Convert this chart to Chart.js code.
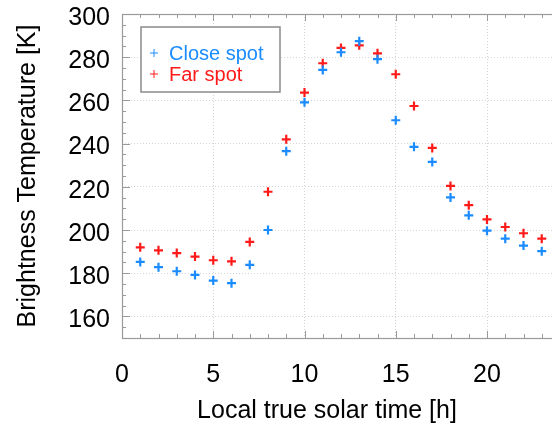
<!DOCTYPE html>
<html>
<head>
<meta charset="utf-8">
<script src="https://cdn.jsdelivr.net/npm/chart.js@4/dist/chart.umd.min.js"></script>
<style>
  html, body { margin: 0; padding: 0; background: #fff; overflow: hidden; }
  #wrap { position: relative; width: 570px; height: 425px; }
</style>
</head>
<body>
<div id="wrap"><canvas id="c"></canvas></div>
<script>
  // local true solar time [h]
  const hours = [1, 2, 3, 4, 5, 6, 7, 8, 9, 10, 11, 12, 13, 14, 15, 16, 17, 18, 19, 20, 21, 22, 23];
  // brightness temperature [K]
  const closeSpot = [185.2, 182.8, 180.9, 179.2, 176.6, 175.4, 183.9, 200.0, 236.5, 259.1, 274.1, 282.3,
                     287.4, 279.1, 250.8, 238.5, 231.5, 215.1, 206.8, 199.7, 196.0, 192.8, 190.2];
  const farSpot = [192.0, 190.6, 189.3, 187.7, 186.0, 185.5, 194.5, 217.7, 242.0, 263.6, 277.2, 284.3,
                   285.5, 281.8, 272.1, 257.4, 238.0, 220.4, 211.5, 204.9, 201.4, 198.5, 196.0];
  const seriesNames = ["Close spot", "Far spot"];
  const seriesColors = ["#1a8cff", "#ff1a1a"];
  const xTicks = [0, 5, 10, 15, 20];
  const yTicks = [160, 180, 200, 220, 240, 260, 280, 300];
  const xTitle = "Local true solar time [h]";
  const yTitle = "Brightness Temperature [K]";

  const FONT = "Helvetica, 'Liberation Sans', Arial, sans-serif";
  const frameColor = "#9a9a9a";

  function pts(ys) {
    return hours.map((h, i) => ({ x: h, y: ys[i] }));
  }

  // frame + inward tick marks + x title
  const framePlugin = {
    id: "frame",
    beforeDatasetsDraw(chart) {
      const { ctx, chartArea: a, scales } = chart;
      const xs = scales.x, ys = scales.y;
      ctx.save();
      ctx.strokeStyle = frameColor;
      ctx.lineWidth = 1;
      ctx.beginPath();
      for (let v = 0; v <= 24; v++) {
        const px = Math.round(xs.getPixelForValue(v)) + 0.5;
        const len = v % 5 === 0 ? 7 : 4;
        ctx.moveTo(px, a.bottom); ctx.lineTo(px, a.bottom - len);
        ctx.moveTo(px, a.top); ctx.lineTo(px, a.top + len);
      }
      for (let v = 150; v <= 300; v += 5) {
        const py = Math.round(ys.getPixelForValue(v)) + 0.5;
        const len = v % 20 === 0 ? 8 : 4;
        ctx.moveTo(a.left, py); ctx.lineTo(a.left + len, py);
        ctx.moveTo(a.right, py); ctx.lineTo(a.right - len, py);
      }
      ctx.stroke();
      ctx.lineWidth = 1.2;
      ctx.strokeRect(a.left + 0.5, a.top + 0.5, a.right - a.left, a.bottom - a.top);

      ctx.fillStyle = "#000";
      ctx.font = "25px " + FONT;
      ctx.textAlign = "center";
      ctx.textBaseline = "middle";
      ctx.fillText(xTitle, 327, 411);
      ctx.restore();
    }
  };

  // boxed legend like the original
  const boxLegend = {
    id: "boxLegend",
    afterDraw(chart) {
      const { ctx } = chart;
      const bx = 141, by = 27, bw = 139, bh = 65;
      ctx.save();
      ctx.fillStyle = "#fff";
      ctx.fillRect(bx, by, bw, bh);
      ctx.strokeStyle = "#8a8a8a";
      ctx.lineWidth = 1.5;
      ctx.strokeRect(bx, by, bw, bh);
      ctx.font = "20px " + FONT;
      ctx.textBaseline = "middle";
      chart.data.datasets.forEach((ds, i) => {
        const cy = 53 + i * 21;
        const mx = 154;
        ctx.strokeStyle = ds.borderColor;
        ctx.lineWidth = 1;
        ctx.beginPath();
        ctx.moveTo(mx - 4, cy); ctx.lineTo(mx + 4, cy);
        ctx.moveTo(mx, cy - 4); ctx.lineTo(mx, cy + 4);
        ctx.stroke();
        ctx.fillStyle = ds.borderColor;
        ctx.fillText(ds.label, 169, cy + 1);
      });
      ctx.restore();
    }
  };

  new Chart(document.getElementById("c"), {
    type: "scatter",
    data: {
      datasets: [
        { label: seriesNames[0], data: pts(closeSpot), borderColor: seriesColors[0], backgroundColor: seriesColors[0] },
        { label: seriesNames[1], data: pts(farSpot), borderColor: seriesColors[1], backgroundColor: seriesColors[1] }
      ]
    },
    options: {
      responsive: true,
      maintainAspectRatio: false,
      animation: false,
      layout: { padding: { top: 0, right: 10, left: 0, bottom: 0 } },
      elements: {
        point: { pointStyle: "cross", radius: 4.5, borderWidth: 2.2 }
      },
      scales: {
        x: {
          type: "linear",
          min: 0, max: 24,
          afterBuildTicks(s) { s.ticks = xTicks.map(v => ({ value: v })); },
          afterFit(s) { s.height = 87; },
          ticks: { color: "#000", font: { size: 25, family: FONT }, padding: 22, maxRotation: 0 },
          grid: { color: "#d4d4d4", lineWidth: 1, drawTicks: false },
          border: { display: false, dash: [1, 2] }
        },
        y: {
          min: 150, max: 300,
          afterBuildTicks(s) { s.ticks = yTicks.map(v => ({ value: v })); },
          afterFit(s) { s.width = 122; s.paddingTop = 14; s.paddingBottom = 0; },
          ticks: { color: "#000", font: { size: 25, family: FONT }, padding: 12, labelOffset: 4 },
          grid: { color: "#d4d4d4", lineWidth: 1, drawTicks: false },
          border: { display: false, dash: [1, 2] },
          title: { display: true, text: yTitle, color: "#000", font: { size: 25, family: FONT }, padding: { top: 13, bottom: 0 } }
        }
      },
      plugins: {
        legend: { display: false },
        tooltip: { enabled: false }
      }
    },
    plugins: [framePlugin, boxLegend]
  });
</script>
</body>
</html>
